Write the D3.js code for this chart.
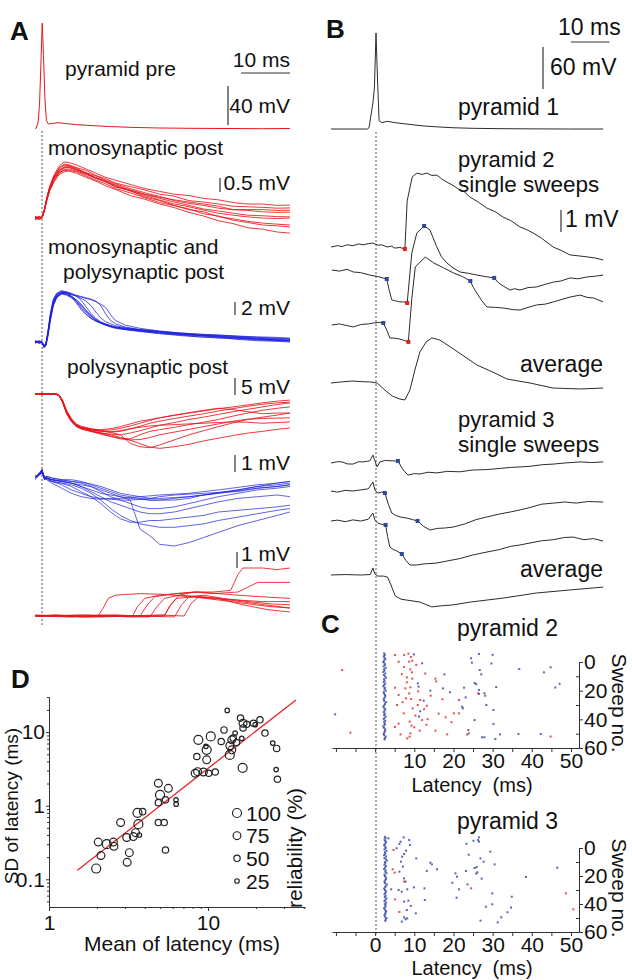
<!DOCTYPE html>
<html>
<head>
<meta charset="utf-8">
<script src="https://cdn.jsdelivr.net/npm/d3@7"></script>
<style>
  body { margin: 0; background: #fff; }
  svg text { font-family: "Liberation Sans", Arial, sans-serif; fill: #111; }
</style>
</head>
<body>
<div id="chart"></div>
<script>
// ---------- Panel A : time in ms (0 = presynaptic spike), voltage in mV from baseline ----------
const aPre = [[-1.4,0],[-1.2,0.3],[-0.8,6],[-0.5,25],[-0.2,70],[0.05,108],[0.3,75],[0.6,30],[0.9,8],[1.3,4.6],[2,5],[3.3,6],[5,5],[7,4],[10,3],[14,2],[18,1.2],[24,0.5],[30,0.2],[38,0],[45,-0.2],[50.6,0]];

const aMonoT = [-1.4,-0.5,0,0.5,1,1.6,2.5,3.5,4.5,5.5,7,9,11,13,15,18,21,24,27,30,33,36,39,42,45,48,50.6];
const aMono = [
  [0.05,-0.05,0,0.3,0.75,1.15,1.55,1.85,2.0,1.98,1.9,1.75,1.6,1.45,1.35,1.2,1.05,0.95,0.85,0.8,0.7,0.65,0.55,0.5,0.5,0.45,0.46],
  [0,0.05,0,0.25,0.7,1.1,1.5,1.8,1.92,1.9,1.8,1.7,1.52,1.4,1.25,1.12,1.0,0.85,0.78,0.62,0.57,0.5,0.42,0.4,0.38,0.35,0.36],
  [-0.05,0,0.02,0.3,0.72,1.1,1.45,1.7,1.82,1.85,1.75,1.62,1.5,1.35,1.22,1.05,0.9,0.77,0.62,0.52,0.45,0.35,0.3,0.27,0.22,0.2,0.21],
  [0.05,0,0,0.28,0.68,1.05,1.4,1.65,1.78,1.8,1.72,1.6,1.42,1.32,1.18,1.0,0.84,0.7,0.57,0.45,0.32,0.25,0.17,0.1,0.08,0.05,0.04],
  [0,-0.05,0.02,0.32,0.7,1.08,1.42,1.62,1.72,1.75,1.68,1.55,1.42,1.28,1.12,0.97,0.8,0.64,0.5,0.4,0.28,0.17,0.1,0.04,0,-0.02,0],
  [0.05,0,0,0.3,0.65,1.0,1.35,1.6,1.7,1.7,1.65,1.5,1.35,1.22,1.05,0.9,0.72,0.55,0.44,0.3,0.22,0.05,-0.03,-0.12,-0.18,-0.22,-0.25],
  [0,0.05,0,0.3,0.7,1.1,1.5,1.75,1.88,1.88,1.78,1.6,1.45,1.3,1.15,0.97,0.75,0.62,0.45,0.32,0.15,0.07,-0.08,-0.16,-0.25,-0.28,-0.32],
  [-0.05,0,0,0.25,0.62,0.98,1.3,1.55,1.65,1.68,1.6,1.45,1.32,1.15,1.02,0.8,0.67,0.5,0.37,0.2,0.07,-0.1,-0.2,-0.35,-0.4,-0.5,-0.54],
  [0,0,0.02,0.3,0.7,1.05,1.45,1.7,1.8,1.82,1.72,1.58,1.42,1.32,1.1,1.0,0.85,0.74,0.65,0.57,0.5,0.42,0.3,0.3,0.3,0.27,0.28]
];

const aMixT = [-1.4,-0.5,0,0.4,0.8,1.2,1.7,2.3,3,4,5,6,7,8,9,10,11,12,13,14,15,17,20,24,28,32,36,40,44,48,50.6];
const aMix = [
  [0.2,-0.2,0,-0.7,-0.4,1.2,3.8,6.0,7.2,7.7,7.6,7.1,6.2,5.2,4.3,3.7,3.2,2.9,2.6,2.4,2.2,2.0,1.8,1.5,1.2,1.0,0.8,0.6,0.5,0.3,0.2],
  [-0.2,0.1,-0.1,-0.8,-0.2,1.5,4.2,6.4,7.4,7.8,7.5,7.0,6.5,5.8,4.8,4.0,3.4,3.0,2.7,2.5,2.3,2.1,1.9,1.6,1.3,1.1,1.0,0.8,0.6,0.5,0.4],
  [0,0.2,0,-0.6,-0.5,1.0,3.5,5.8,7.0,7.6,7.7,7.5,7.1,6.4,5.4,4.4,3.6,3.1,2.8,2.5,2.3,2.0,1.7,1.4,1.2,1.0,0.8,0.7,0.5,0.4,0.3],
  [0.1,-0.1,0,-0.9,-0.6,0.8,3.2,5.5,6.8,7.4,7.5,7.3,7.2,7.0,6.8,6.6,6.3,5.6,4.3,3.3,2.8,2.3,1.9,1.6,1.3,1.1,0.9,0.7,0.5,0.3,0.2],
  [-0.1,0,0.1,-0.7,-0.3,1.3,3.9,6.1,7.1,7.5,7.3,6.9,6.0,5.0,4.2,3.6,3.2,2.9,2.6,2.3,2.1,1.9,1.6,1.3,1.0,0.8,0.6,0.5,0.3,0.2,0.1],
  [0.2,0,0,-0.5,-0.2,1.6,4.4,6.6,7.5,7.9,7.7,7.4,7.0,6.7,6.3,5.6,4.6,3.7,3.1,2.8,2.5,2.2,1.9,1.6,1.4,1.2,1.1,0.9,0.8,0.7,0.6],
  [0,-0.2,0,-0.8,-0.5,1.1,3.6,5.7,6.9,7.4,7.2,6.8,6.3,5.5,4.6,3.9,3.3,2.9,2.6,2.4,2.2,1.9,1.7,1.3,1.1,0.8,0.7,0.4,0.2,0.1,0],
  [0.1,0.1,-0.1,-0.6,-0.3,1.4,4.0,6.2,7.3,7.7,7.6,7.3,7.1,6.9,6.7,6.5,6.2,5.8,5.3,4.2,3.3,2.6,2.1,1.7,1.4,1.2,1.0,0.9,0.7,0.6,0.5],
  [0,0,0,-0.7,-0.4,1.2,3.7,5.9,7.0,7.5,7.4,7.0,6.5,5.7,4.9,4.1,3.5,3.0,2.7,2.5,2.3,2.1,1.8,1.5,1.2,1.0,0.8,0.6,0.4,0.3,0.2]
];

const aPolyT = [-1.4,0,2,3,3.5,4.2,5,6,7,8,10,12,14,16,18,20,22,24,27,30,33,36,39,42,45,48,50.6];
const aPoly = [
  [0,0.2,0,0,-0.3,-2,-5,-7.5,-9,-9.7,-10.3,-10.5,-10.2,-9.6,-8.8,-8,-7.5,-7,-6.3,-5.6,-5,-4.3,-3.8,-3.2,-2.6,-2.1,-1.8],
  [0.1,0,0,-0.1,-0.5,-2.3,-5.5,-8,-9.4,-10,-10.6,-11,-11.2,-11,-10.3,-9.5,-8.6,-8,-7.2,-6.5,-5.8,-5,-4.3,-3.6,-3,-2.6,-2.4],
  [0,-0.1,0.1,0,-0.4,-2.1,-5.2,-7.8,-9.2,-10,-10.8,-11.5,-11.8,-12,-11.5,-10.8,-10,-9.2,-8.4,-7.5,-6.8,-6,-5.2,-4.5,-3.8,-3.1,-2.6],
  [0,0,0,-0.2,-0.6,-2.5,-5.8,-8.2,-9.6,-10.3,-11,-11.6,-12.4,-13,-13.2,-12,-11,-10.5,-9.8,-9,-8.3,-7.5,-6.5,-5.6,-4.8,-4.2,-3.8],
  [0.1,0.1,0,0,-0.3,-1.8,-4.8,-7.2,-8.8,-9.5,-10.2,-10.8,-11.3,-12,-14.5,-15.5,-15.8,-15,-13.5,-12,-10.8,-9.6,-8.5,-7.5,-6.8,-6.2,-5.6],
  [0,0,-0.1,-0.1,-0.5,-2.2,-5.4,-7.9,-9.3,-10.1,-10.9,-11.4,-12,-12.8,-13.6,-14.6,-15.6,-16,-15.5,-14.8,-13.8,-13,-12.2,-11.5,-11,-10.4,-10],
  [0,0.1,0,0,-0.4,-2.0,-5.1,-7.6,-9.1,-9.9,-10.5,-10.9,-11.1,-10.8,-10.2,-9.8,-9.4,-9.2,-9,-8.8,-8.6,-8.4,-8.2,-8.3,-8.6,-8.4,-8.2],
  [0,0,0.1,0,-0.4,-2.1,-5.3,-7.7,-9.2,-9.8,-10.4,-10.7,-10.6,-10.1,-9.4,-8.6,-7.8,-7,-6.2,-5.5,-4.8,-4.2,-4.6,-5.2,-5.8,-5.6,-5.6],
  [0,0,0,-0.1,-0.5,-2.4,-5.6,-8.1,-9.5,-10.2,-11,-11.8,-12.5,-13.2,-13.5,-13.4,-12.8,-12,-11.2,-10.4,-9.6,-8.8,-8,-7.4,-7.2,-7.1,-7]
];

const aSlowT = [-1.4,-0.5,0,0.5,1,2,4,6,8,10,12,14,16,18,20,22,24,27,30,33,36,40,44,48,50.6];
const aSlow = [
  [0,0.3,0.4,-0.1,0,-0.1,-0.2,-0.3,-0.5,-0.7,-0.9,-1.0,-1.1,-1.2,-1.25,-1.3,-1.3,-1.2,-1.1,-1.0,-0.85,-0.7,-0.5,-0.4,-0.3],
  [0.1,0.2,0.5,0,0.1,0,-0.1,-0.1,-0.2,-0.4,-0.6,-0.8,-1.0,-1.1,-1.2,-1.3,-1.3,-1.3,-1.2,-1.0,-0.9,-0.7,-0.5,-0.3,-0.2],
  [-0.1,0.2,0.3,0,-0.1,-0.2,-0.4,-0.7,-0.9,-1.1,-1.2,-1.25,-1.3,-1.3,-1.25,-1.2,-1.1,-1.0,-0.95,-0.9,-0.85,-0.8,-0.6,-0.5,-0.4],
  [0,0.3,0.4,0.1,0,-0.2,-0.3,-0.5,-0.8,-1.1,-1.5,-2.0,-2.4,-2.6,-2.6,-2.5,-2.5,-2.4,-2.3,-2.2,-2.0,-1.9,-1.8,-1.7,-1.6],
  [0.1,0.2,0.4,0,0,-0.1,-0.2,-0.3,-0.4,-0.5,-0.7,-0.9,-1.1,-1.3,-3.0,-3.4,-3.9,-4.0,-3.8,-3.5,-3.2,-2.8,-2.5,-2.2,-2.0],
  [0,0.3,0.5,-0.1,0,-0.2,-0.3,-0.4,-0.6,-0.9,-1.3,-1.8,-2.2,-2.5,-2.7,-2.8,-2.9,-2.9,-2.8,-2.7,-2.5,-2.3,-2.1,-1.9,-1.8],
  [0,0.2,0.3,0,0.1,0,-0.1,-0.2,-0.3,-0.5,-0.8,-1.1,-1.3,-1.5,-1.7,-1.8,-1.8,-1.7,-1.5,-1.3,-1.1,-0.9,-0.7,-0.6,-0.5],
  [0.1,0.2,0.4,0,0,-0.1,-0.15,-0.2,-0.25,-0.35,-0.5,-0.7,-0.9,-1.0,-1.1,-1.2,-1.2,-1.15,-1.1,-1.0,-0.9,-0.75,-0.6,-0.5,-0.4],
  [0,0.2,0.4,0,-0.1,-0.3,-0.6,-0.9,-1.1,-1.2,-1.25,-1.2,-1.2,-1.15,-1.1,-1.05,-1.0,-0.95,-0.9,-0.8,-0.7,-0.55,-0.4,-0.3,-0.2],
  [0,0.3,0.5,0,0,-0.1,-0.2,-0.3,-0.5,-0.8,-1.1,-1.4,-1.6,-1.8,-2.0,-2.1,-2.1,-2.0,-1.8,-1.6,-1.4,-1.2,-1.1,-1.0,-1.1]
];

const aLate = [
  [[-1.4,0],[3,0.08],[8,-0.06],[11.5,0.02],[12.5,0.5],[13.5,1.1],[15,1.3],[20,1.4],[25,1.35],[30,1.2],[35,1.1],[40,1.0],[45,0.9],[50.6,0.9]],
  [[-1.4,0],[6,-0.06],[12,0.06],[18.5,0],[19.5,0.6],[21,1.1],[24,1.3],[28,1.4],[32,1.5],[36,1.4],[40,1.3],[45,1.2],[50.6,1.1]],
  [[-1.4,0.05],[5,0],[10,-0.06],[15,0.06],[20,0],[21.5,0.7],[23,1.2],[27,1.4],[31,1.5],[35,1.5],[38.5,1.6],[40,2.6],[41,3.0],[45,3.0],[48,2.9],[50.6,3.0]],
  [[-1.4,0],[8,0.06],[14,0],[22,-0.06],[23.5,0.6],[25,1.1],[28,1.3],[33,1.2],[38,1.0],[43,0.8],[48,0.6],[50.6,0.5]],
  [[-1.4,0],[6,0.03],[12,-0.06],[18,0],[25,0.06],[26.5,0.8],[28,1.3],[31,1.5],[35,1.4],[40,1.5],[42,1.8],[44,2.1],[48,2.1],[50.6,2.1]],
  [[-1.4,0.05],[7,0],[14,0.06],[20,0],[27,-0.06],[28.5,0.7],[30,1.2],[33,1.3],[37,1.1],[42,0.9],[47,0.75],[50.6,0.7]],
  [[-1.4,0],[9,-0.06],[17,0],[24,0.06],[29,0],[30.5,0.8],[32,1.2],[36,1.1],[41,0.7],[46,0.4],[50.6,0.25]],
  [[-1.4,0],[10,0.06],[18,-0.06],[25,0],[26,0.6],[27.5,1.1],[31,1.2],[36,1.0],[41,0.8],[46,0.6],[50.6,0.5]]
];

// ---------- Panel B : [ms, mV] ----------
const bPyr1 = [[-11.7,0],[-6,0],[-2.2,0],[-1.8,2],[-1.3,20],[-0.8,37],[-0.4,60],[0,137],[0.4,70],[0.8,12],[1.5,9],[2.9,11],[5,9],[8,7],[12,4.5],[16,3],[20,1.8],[25,1],[32,0.5],[40,0.2],[50,0],[59,0]];

const bP2s1 = [[-11.7,0],[-10,0.06],[-8.8,0.02],[-7.5,0.1],[-6,0.06],[-4.5,0.14],[-3.4,0.1],[-2,0.15],[-0.8,0.18],[0.5,0.08],[1.5,0.1],[2.9,0],[4,0.04],[4.9,-0.05],[6.2,-0.02],[7.5,-0.09],[8.1,2.1],[9.4,3.18],[10.6,3.36],[12,3.3],[13.2,3.36],[14.5,3.25],[15.8,3.27],[17,3.1],[18.4,2.95],[20,2.8],[21.8,2.59],[23,2.5],[24.4,2.27],[26.5,2.05],[28.8,1.77],[31,1.6],[33,1.36],[35,1.2],[37.4,0.91],[39,0.8],[40.8,0.64],[43,0.4],[46,0],[48,-0.15],[50.4,-0.36],[52.5,-0.4],[54.8,-0.45],[57,-0.5],[59,-0.59]];
const bP2s1Marks = [[7.5,'red']];
const bP2s2 = [[-11.5,0],[-9.5,-0.05],[-7.5,0.03],[-5.9,-0.09],[-4,-0.12],[-1.6,-0.23],[0.5,-0.3],[2.8,-0.41],[3.4,-0.9],[4.1,-1.36],[5,-1.4],[6.2,-1.45],[7.2,-1.45],[8.1,-1.5],[9.3,0.77],[10.6,1.68],[12.5,2.0],[14,1.82],[15.8,1.05],[17,0.6],[18.4,0.32],[20,0.1],[21.8,-0.09],[24,-0.15],[26.2,-0.23],[28.5,-0.3],[30.7,-0.36],[31.6,-0.55],[32.6,-0.68],[34.8,-0.91],[36,-0.85],[37.4,-0.91],[39.5,-0.8],[41.7,-0.77],[44,-0.65],[46.1,-0.55],[48,-0.5],[50.4,-0.36],[52.5,-0.4],[54.7,-0.32],[57,-0.28],[59,-0.23]];
const bP2s2Marks = [[2.8,'blue'],[8.1,'red'],[12.5,'blue'],[30.7,'blue']];
const bP2s3 = [[-11.5,0],[-9.5,0.05],[-7.5,-0.03],[-5.9,-0.09],[-4,0.02],[-2,0.05],[-0.7,0.09],[1,0.12],[1.9,0.09],[2.8,-0.23],[3.6,-0.59],[5,-0.6],[6.2,-0.64],[7.3,-0.7],[8.4,-0.77],[9.3,1.2],[10.2,2.64],[12.8,3.09],[15,2.82],[17.5,2.6],[20.2,2.36],[22.5,2.2],[24.5,2.0],[25.3,1.7],[26.2,1.45],[27.5,1.1],[28.8,0.82],[31,0.8],[33.2,0.77],[35.5,0.7],[37.4,0.68],[39.5,0.8],[41.7,0.91],[44,0.95],[46.1,1.05],[48,1.15],[50.4,1.27],[53,1.36],[55,1.25],[56.5,1.23],[59,1.05]];
const bP2s3Marks = [[1.9,'blue'],[8.4,'red'],[24.5,'blue']];
const bP2avg = [[-11.7,0],[-9,0.05],[-6,0.09],[-3.5,0.06],[-1.6,0.05],[0.3,0],[2.3,-0.32],[4.2,-0.59],[6.2,-0.73],[7.5,-0.77],[8.8,-0.32],[10.1,0.59],[11.4,1.41],[13,1.86],[14.5,2.05],[16.6,1.95],[20.5,1.5],[26.2,0.82],[30.9,0.45],[34,0.18],[40,0],[46,-0.23],[53,-0.27],[59,-0.23]];

const bP3s1 = [[-11.7,0],[-10,0.06],[-8.8,0.05],[-7.5,-0.04],[-6,-0.05],[-4.5,0.06],[-3.4,0.05],[-2.2,0.08],[-1.6,0.1],[-0.8,0.36],[-0.3,0.1],[0.3,-0.18],[1,0.05],[2.5,0.12],[3.6,0.1],[5.7,0.09],[7,-0.3],[8.3,-0.55],[10,-0.48],[11.4,-0.5],[13.5,-0.42],[15.8,-0.45],[18.5,-0.38],[21.8,-0.4],[25,-0.32],[28.8,-0.3],[32,-0.25],[35,-0.2],[37.4,-0.18],[40,-0.15],[43,-0.08],[46,-0.05],[49,0],[53,0.05],[56,0.02],[59,0.05]];
const bP3s1Marks = [[5.7,'blue']];
const bP3s2 = [[-11.7,0],[-10,-0.05],[-8,0.03],[-6,0],[-4,0.05],[-2,0.1],[-0.8,0.41],[-0.3,0.05],[0.5,-0.1],[1.5,-0.05],[2.3,-0.09],[3.2,-0.6],[4.1,-1.0],[5,-1.1],[6.2,-1.18],[8,-1.23],[9.5,-1.3],[10.8,-1.36],[12.3,-1.6],[14,-1.77],[16,-1.7],[18,-1.68],[20,-1.64],[23,-1.5],[26,-1.3],[28.8,-1.18],[32,-1.05],[35,-0.95],[37.4,-0.86],[40,-0.75],[43,-0.6],[46.1,-0.55],[49,-0.5],[52,-0.55],[55,-0.48],[59,-0.5]];
const bP3s2Marks = [[2.3,'blue'],[10.8,'blue']];
const bP3s3 = [[-11.7,0],[-10,0.04],[-8,-0.03],[-6,0.05],[-4,0],[-2,0.08],[-0.8,0.36],[-0.3,0.05],[0.5,-0.1],[1.5,-0.15],[2.5,-0.18],[3.0,-0.7],[3.6,-1.18],[4.5,-1.3],[5.4,-1.36],[6.7,-1.5],[7.8,-1.8],[8.8,-2.0],[10.5,-2.0],[12.5,-1.95],[15.8,-1.91],[19,-1.8],[22,-1.7],[25,-1.55],[28.8,-1.41],[32,-1.3],[35,-1.15],[37.4,-1.09],[40,-1.0],[43,-0.9],[46,-0.85],[49,-0.75],[51.2,-0.73],[54,-0.85],[56.5,-0.8],[59,-0.91]];
const bP3s3Marks = [[2.5,'blue'],[6.7,'blue']];
const bP3avg = [[-11.7,0],[-8,0.02],[-4,0],[-1.5,0.02],[-0.8,0.32],[-0.3,0.05],[0.5,-0.05],[2,-0.05],[3,-0.1],[4,-0.5],[5,-0.95],[6.5,-1.1],[8,-1.14],[11.4,-1.23],[14.5,-1.45],[17,-1.4],[20,-1.36],[24.5,-1.23],[33,-1.05],[41.6,-0.82],[50.4,-0.68],[59,-0.55]];

// ---------- Panel C : latency (ms), sweep no. ----------
const c2EarlyFirstSweep = -6;
const c2EarlyT = [2.3,2.5,2.2,2.4,2.6,2.3,2.1,2.4,2.5,2.2,2.7,2.3,2.4,2.1,2.6,2.2,2.5,2.8,2.3,2.4,2.2,2.6,2.3,2.1,2.5,2.4,2.7,2.2,2.3,2.5,2.6,2.4,2.2,2.3,2.8,2.5,2.4,2.1,2.3,2.6,2.4,2.2,2.5,2.3,2.7,2.4,2.2,2.6,2.3,2.5,2.4,2.1,2.3,2.6,2.5,2.4,2.2,2.3,2.7,2.5,2.4];
const c2Blue = [[-10.2,36.5],[9.9,-5.3],[12,0.9],[10.9,14.9],[11.1,17.2],[17.7,8.6],[17.3,18.4],[14.1,20],[19.1,21.1],[22.7,17.9],[23.1,24.7],[22.2,31.2],[22.4,32.4],[26.5,22.3],[25.8,15.4],[23.8,47.5],[23.9,49.8],[24.5,-2.6],[24.7,0.5],[26.5,-5.6],[30,-5],[29.7,1],[26.7,5.6],[27.1,8.6],[36.8,4.9],[43.1,7.2],[44.8,3.7],[25.4,14.7],[30.9,17.5],[47.1,15.2],[46,17.8],[26.5,19.5],[27.9,21.8],[28.1,23.5],[28.4,30],[30.2,33.5],[25.4,40.5],[30.2,43.3],[27.3,52.5],[27.9,52.5],[30.7,53.7],[31.9,50.5],[36.6,50.2],[42.3,50.2],[11.5,34.4],[11.2,38],[12.4,27]];
const c2Red = [[-8.4,5.6],[-6.3,49.3],[5.1,-4.9],[7.4,-4.9],[8.5,-5.8],[9.2,-3.5],[6.0,-0.2],[8.7,-0.2],[9.5,-0.9],[7.4,3.5],[9.0,5.1],[9.4,7.2],[8.1,10.7],[9.5,11.6],[8.1,14.2],[15.4,11.6],[15.6,13.5],[5.1,17.9],[7.7,18.4],[9.0,17.7],[8.7,21.9],[6.0,23],[7.9,25.4],[9.2,25.8],[11.5,26.5],[13.2,30.5],[10.9,30],[9.6,32.4],[5.6,30],[7.3,35.8],[10.3,37.4],[8.8,41.6],[12,40.5],[13.4,39.9],[6,43],[5.1,45.3],[9.3,44.4],[11.4,47.9],[15.4,47.9],[9.0,49.8],[8.8,52.1],[8.2,53.3],[18.4,50.5],[21.4,26.5],[21.4,35.8],[20.1,35.8],[23.5,50.6],[18,38.6],[19.5,42],[13.1,43.8],[26.3,21.8],[44.8,52],[10.5,2],[12.8,8],[6.8,8.5],[11,20.5],[7,28],[12.5,33],[10,45.5],[6.5,50.5],[14.2,23.5],[16.2,36],[17.2,26]];

const c3EarlyFirstSweep = -8;
const c3EarlyT = [2.5,2.7,2.4,2.6,2.8,2.5,2.3,2.6,2.7,2.4,2.9,2.5,2.6,2.3,2.8,2.4,2.7,3.0,2.5,2.6,2.4,2.8,2.5,2.3,2.7,2.6,2.9,2.4,2.5,2.7,2.8,2.6,2.4,2.5,3.0,2.7,2.6,2.3,2.5,2.8,2.6,2.4,2.7,2.5,2.9,2.6,2.4,2.8,2.5,2.7,2.6,2.3,2.5,2.8,2.7,2.6,2.4,2.5,2.9,2.7,2.6];
const c3Blue = [[3.4,-6.9],[6.2,-2.9],[6.5,-4.5],[7.3,-7.6],[8.7,-5.7],[8.9,-2.1],[5.5,0.2],[7.9,1.9],[7.4,4.3],[6.9,6.2],[6.6,9.8],[10.5,7.4],[7.1,13.3],[6.2,16.9],[7.4,21.7],[7.8,24],[6.0,30],[6.8,31.2],[8.2,29.5],[4.1,29.5],[9.9,28.1],[7.4,38.3],[8.5,37.6],[9.1,41.4],[8.1,44.3],[7.4,49.5],[7.8,50.9],[8.2,50.2],[10.4,46.7],[6.8,52.6],[12.6,28.8],[12.7,37.1],[14.1,10.5],[14.5,11.7],[13.2,16.4],[15.8,15.2],[23.3,-3],[23.9,4.8],[20.9,20.5],[20.5,18.1],[23.2,16.4],[25.9,13.6],[26.1,17.4],[19.7,24.8],[21.4,29.5],[23.6,26],[20.8,35.5],[26.3,-5.7],[25.1,-5.2],[26.5,-7.6],[26.5,-4.5],[29.4,2.6],[26.9,7.4],[27.7,9.8],[30.5,11.7],[46.5,14.1],[25.4,14.3],[25.8,18.3],[27.2,21.9],[38.5,20.7],[29.9,32.4],[34.9,34.8],[28.3,41.9],[29.9,40.2],[34.7,42.6],[33.8,45.9],[32.2,49.5],[26.9,51.9],[31.3,53.1]];
const c3Red = [[4.7,1.4],[4.5,15.2],[5,17.6],[7.4,24],[5.1,36.7],[6.2,45.7],[24.5,28.8],[48.7,32.4],[50.6,43.8]];

const cTicks = [-10,-5,0,5,10,15,20,25,30,35,40,45,50];
const c2Labels = [10,20,30,40,50];
const c3Labels = [0,10,20,30,40,50];
const sweepTicks = [0,20,40,60];

// ---------- Panel D ----------
const dMean = [1.98,2.12,2.04,2.31,2.54,2.56,2.82,3.08,3.1,3.2,3.39,3.5,3.65,3.6,3.88,3.7,4.87,4.99,4.87,5.63,5.4,4.87,5.3,5.4,6.29,6.3,8.69,8.5,8.3,8.6,9.35,9.8,9.8,9.7,10.4,10.1,11.1,12.1,12.6,13.2,13.7,13.7,14.1,14.4,14.1,14.8,15.1,16.3,16.0,16.5,16.6,16.6,17.5,19.3,21.2,19.8,22.8,25.5,27.0,26.8,27.3];
const dSD = [0.14,0.21,0.32,0.30,0.32,0.28,0.59,0.37,0.17,0.23,0.38,0.43,0.56,0.80,0.83,0.40,2.02,1.40,1.10,1.72,1.20,0.59,0.59,0.25,1.20,1.05,7.85,4.66,2.76,2.90,2.87,5.74,4.20,6.40,8.73,2.76,2.87,7.46,10.7,19.7,4.90,6.52,7.85,8.30,5.74,9.70,7.20,8.20,15.5,3.27,13.2,11.4,12.8,13.2,14.7,12.6,9.70,7.10,6.00,3.10,2.29];
const dRel = [100,75,75,100,75,75,75,75,75,75,75,75,100,100,50,25,75,100,50,75,50,50,50,50,25,25,100,50,75,75,75,100,75,25,100,50,50,50,50,25,100,75,75,50,75,25,50,25,50,100,75,50,50,50,50,25,50,25,50,25,50];
const dFit = [[1.51,0.133],[35.7,27.4]];
const dLegend = [100,75,50,25];
const dMinorX = [2,3,4,5,6,7,8,9,20,30,40];
const dMinorY = [0.05,0.06,0.07,0.08,0.09,0.2,0.3,0.4,0.5,0.6,0.7,0.8,0.9,2,3,4,5,6,7,8,9,20,30];

// ---------------------------------------------------------------------
const RED = '#e8161b', BLUE = '#1d22dc', TRACE = '#2b2b2b';
const MARK = {red: '#e3201c', blue: '#2d4a9a'};
const DOT = {red: '#e2332b', blue: '#3a4ea2'};
const FONT = '"Liberation Sans", Arial, sans-serif';

const svg = d3.select('#chart').append('svg')
  .attr('width', 632).attr('height', 980)
  .style('background', '#fff');

function text(g, x, y, str, size, anchor, weight) {
  return g.append('text').attr('x', x).attr('y', y).text(str)
    .attr('font-size', size).attr('text-anchor', anchor || 'start')
    .attr('font-weight', weight || 'normal');
}
function toPairs(times, sweeps) {
  return sweeps.map(s => s.map((v, i) => [times[i], v]));
}
function valueAt(data, t) {
  const i = d3.bisector(d => d[0]).right(data, t) - 1;
  const a = data[Math.max(0, i)], b = data[Math.min(data.length - 1, i + 1)];
  if (b[0] === a[0]) return a[1];
  return a[1] + (b[1] - a[1]) * (t - a[0]) / (b[0] - a[0]);
}

// ===================== Panel A =====================
const gA = svg.append('g');
const xA = d3.scaleLinear().domain([0, 10]).range([42, 91]);

text(gA, 10, 40, 'A', 26, 'start', 'bold');

gA.append('line').attr('x1', xA(0)).attr('x2', xA(0)).attr('y1', 131).attr('y2', 627)
  .attr('stroke', '#555').attr('stroke-dasharray', '2,2');

const aGroups = [
  {sweeps: [aPre], base: 128.5, k: 0.975, color: RED, op: 1, bar: 40, barX: 228, barBottom: 125, label: '40 mV', ty: 113},
  {sweeps: toPairs(aMonoT, aMono), base: 218, k: 28, color: RED, op: 0.85, bar: 0.5, barX: 220, barBottom: 192, label: '0.5 mV', ty: 190},
  {sweeps: toPairs(aMixT, aMix), base: 342, k: 6.5, color: BLUE, op: 0.75, bar: 2, barX: 235, barBottom: 315, label: '2 mV', ty: 315},
  {sweeps: toPairs(aPolyT, aPoly), base: 394, k: 3.4, color: RED, op: 0.85, bar: 5, barX: 235, barBottom: 395, label: '5 mV', ty: 394},
  {sweeps: toPairs(aSlowT, aSlow), base: 478, k: 17, color: BLUE, op: 0.7, bar: 1, barX: 235, barBottom: 472, label: '1 mV', ty: 470},
  {sweeps: aLate, base: 616, k: 16, color: RED, op: 0.85, bar: 1, barX: 237, barBottom: 568, label: '1 mV', ty: 561}
];

aGroups.forEach(gr => {
  const y = d3.scaleLinear().domain([0, 1]).range([gr.base, gr.base - gr.k]);
  const line = d3.line().x(d => xA(d[0])).y(d => y(d[1]));
  gA.append('g').selectAll('path').data(gr.sweeps).join('path')
    .attr('d', line).attr('fill', 'none')
    .attr('stroke', gr.color).attr('stroke-opacity', gr.op).attr('stroke-width', 1);
  const h = y(0) - y(gr.bar);
  gA.append('line').attr('x1', gr.barX).attr('x2', gr.barX)
    .attr('y1', gr.barBottom).attr('y2', gr.barBottom - h)
    .attr('stroke', '#333').attr('stroke-width', 1.2);
  text(gA, 290, gr.ty, gr.label, 21, 'end');
});

gA.append('line').attr('x1', 290 - (xA(10) - xA(0))).attr('x2', 290).attr('y1', 73).attr('y2', 73)
  .attr('stroke', '#333').attr('stroke-width', 1.2);
text(gA, 290, 67, '10 ms', 21, 'end');

text(gA, 65, 76, 'pyramid pre', 21);
text(gA, 48, 155, 'monosynaptic post', 21);
text(gA, 48, 254, 'monosynaptic and', 21);
text(gA, 63, 279, 'polysynaptic post', 21);
text(gA, 67, 374, 'polysynaptic post', 21);

// ===================== Panel B =====================
const gB = svg.append('g');
const xB = d3.scaleLinear().domain([0, 10]).range([376, 414.5]);

text(gB, 326, 38, 'B', 26, 'start', 'bold');

gB.append('line').attr('x1', xB(0)).attr('x2', xB(0)).attr('y1', 132).attr('y2', 936)
  .attr('stroke', '#555').attr('stroke-dasharray', '2,2');

const bTraces = [
  {data: bPyr1, base: 129, k: 0.7, marks: []},
  {data: bP2s1, base: 247, k: 22, marks: bP2s1Marks},
  {data: bP2s2, base: 270, k: 22, marks: bP2s2Marks},
  {data: bP2s3, base: 325, k: 22, marks: bP2s3Marks},
  {data: bP2avg, base: 383, k: 22, marks: []},
  {data: bP3s1, base: 463, k: 22, marks: bP3s1Marks},
  {data: bP3s2, base: 491, k: 22, marks: bP3s2Marks},
  {data: bP3s3, base: 521, k: 22, marks: bP3s3Marks},
  {data: bP3avg, base: 575, k: 22, marks: []}
];

bTraces.forEach(tr => {
  const y = d3.scaleLinear().domain([0, 1]).range([tr.base, tr.base - tr.k]);
  gB.append('path').datum(tr.data)
    .attr('d', d3.line().x(d => xB(d[0])).y(d => y(d[1])))
    .attr('fill', 'none').attr('stroke', TRACE).attr('stroke-width', 1);
  gB.append('g').selectAll('rect').data(tr.marks).join('rect')
    .attr('x', d => xB(d[0]) - 2).attr('y', d => y(valueAt(tr.data, d[0])) - 2)
    .attr('width', 4).attr('height', 4)
    .attr('fill', d => MARK[d[1]]);
});

// scale bars B
gB.append('line').attr('x1', 609.5 - (xB(10) - xB(0))).attr('x2', 609.5).attr('y1', 42).attr('y2', 42)
  .attr('stroke', '#333').attr('stroke-width', 1.2);
text(gB, 558, 35, '10 ms', 23);
gB.append('line').attr('x1', 543).attr('x2', 543).attr('y1', 89).attr('y2', 89 - 60 * 0.7)
  .attr('stroke', '#333').attr('stroke-width', 1.2);
text(gB, 550, 75, '60 mV', 23);
gB.append('line').attr('x1', 561).attr('x2', 561).attr('y1', 232).attr('y2', 232 - 22)
  .attr('stroke', '#333').attr('stroke-width', 1.2);
text(gB, 565, 227, '1 mV', 23);

text(gB, 458, 115, 'pyramid 1', 23);
text(gB, 458, 167, 'pyramid 2', 22);
text(gB, 458, 192, 'single sweeps', 22.5);
text(gB, 603, 372, 'average', 23, 'end');
text(gB, 458, 427, 'pyramid 3', 22);
text(gB, 458, 452, 'single sweeps', 22.5);
text(gB, 603, 577, 'average', 23, 'end');

// ===================== Panel C =====================
const gC = svg.append('g');
text(gC, 321, 633, 'C', 26, 'start', 'bold');

const xC = d3.scaleLinear().domain([-11, 52.3]).range([332, 580]);

function raster(early, firstSweep, blue, red, top, bottom, labels, opt) {
  const yC = d3.scaleLinear().domain([0, 60]).range([top, bottom]);
  const g = gC.append('g');
  const earlyPts = early.map((t, i) => [t, firstSweep + i]);
  const dots = [
    ...earlyPts.map(d => [d[0], d[1], 'blue']),
    ...blue.map(d => [d[0], d[1], 'blue']),
    ...red.map(d => [d[0], d[1], 'red'])
  ];
  g.selectAll('rect').data(dots).join('rect')
    .attr('x', d => xC(d[0]) - 1).attr('y', d => yC(d[1]) - 1)
    .attr('width', 2).attr('height', 2)
    .attr('fill', d => DOT[d[2]]).attr('fill-opacity', 0.85);

  const xAxis = g.append('g').attr('transform', `translate(0,${bottom})`)
    .call(d3.axisBottom(xC).tickValues(cTicks).tickSize(4).tickSizeOuter(0)
      .tickPadding(opt.pad).tickFormat(d => labels.includes(d) ? d : ''));
  const yAxis = g.append('g').attr('transform', 'translate(579,0)')
    .call(d3.axisRight(yC).tickValues(sweepTicks).tickSize(4).tickSizeOuter(0).tickPadding(1));
  g.append('g').attr('transform', 'translate(579,0)')
    .call(d3.axisLeft(yC).tickValues([10, 30, 50]).tickSize(3).tickSizeOuter(0).tickFormat(''));
  [xAxis, yAxis].forEach(ax => {
    ax.attr('font-size', 21).attr('font-family', FONT);
    ax.selectAll('text').attr('fill', '#111');
  });
  g.selectAll('path.domain, .tick line').attr('stroke', '#333');

  text(g, 472, opt.latY, 'Latency  (ms)', 20, 'middle').style('white-space', 'pre');
  text(g, 0, 0, 'Sweep no.', 21, 'middle')
    .attr('transform', `translate(612,${(top + bottom) / 2 - 2}) rotate(90)`);
  text(g, 457, opt.titleY, opt.title, 23);
}

raster(c2EarlyT, c2EarlyFirstSweep, c2Blue, c2Red, 662, 748, c2Labels,
  {pad: 1, latY: 792, titleY: 636, title: 'pyramid 2'});
raster(c3EarlyT, c3EarlyFirstSweep, c3Blue, c3Red, 848, 932, c3Labels,
  {pad: 1, latY: 975, titleY: 829, title: 'pyramid 3'});

// ===================== Panel D =====================
const gD = svg.append('g');
text(gD, 11, 688, 'D', 26, 'start', 'bold');

const xD = d3.scaleLog().domain([1, 40.7]).range([49, 305]);
const yD = d3.scaleLog().domain([0.042, 30]).range([907, 697]);
const rD = d3.scaleSqrt().domain([0, 100]).range([0, 4.5]);

const dxAxis = gD.append('g').attr('transform', 'translate(0,907)')
  .call(d3.axisBottom(xD).tickValues([1, 10]).tickFormat(d3.format('d')).tickSize(4).tickSizeOuter(0).tickPadding(4));
gD.append('g').attr('transform', 'translate(0,907)')
  .call(d3.axisBottom(xD).tickValues(dMinorX).tickFormat('').tickSize(2).tickSizeOuter(0));
const dyAxis = gD.append('g').attr('transform', 'translate(49,0)')
  .call(d3.axisLeft(yD).tickValues([0.1, 1, 10]).tickFormat(d => d < 1 ? '0.1' : d3.format('d')(d))
    .tickSize(3).tickSizeOuter(0).tickPadding(1));
gD.append('g').attr('transform', 'translate(49,0)')
  .call(d3.axisLeft(yD).tickValues(dMinorY).tickFormat('').tickSize(2).tickSizeOuter(0));
[dxAxis, dyAxis].forEach(ax => {
  ax.attr('font-size', 21).attr('font-family', FONT);
  ax.selectAll('text').attr('fill', '#111');
});
gD.selectAll('path.domain, .tick line').attr('stroke', '#333');

gD.append('path').datum(dFit)
  .attr('d', d3.line().x(d => xD(d[0])).y(d => yD(d[1])))
  .attr('stroke', '#e3262a').attr('stroke-width', 1.3).attr('fill', 'none');

gD.append('g').selectAll('circle').data(dMean.map((m, i) => [m, dSD[i], dRel[i]])).join('circle')
  .attr('cx', d => xD(d[0])).attr('cy', d => yD(d[1])).attr('r', d => rD(d[2]))
  .attr('fill', 'none').attr('stroke', '#222').attr('stroke-width', 1.2);

const legY = d3.scalePoint().domain(dLegend).range([813, 881]);
gD.append('g').selectAll('circle').data(dLegend).join('circle')
  .attr('cx', 237).attr('cy', d => legY(d)).attr('r', d => rD(d))
  .attr('fill', 'none').attr('stroke', '#222').attr('stroke-width', 1.2);
gD.append('g').selectAll('text').data(dLegend).join('text')
  .attr('x', 246).attr('y', d => legY(d)).attr('dy', '0.36em')
  .attr('font-size', 21).text(d => d);

text(gD, 182, 951, 'Mean of latency (ms)', 21, 'middle');
text(gD, 0, 0, 'SD of latency (ms)', 19, 'middle').attr('transform', 'translate(17.5,806) rotate(-90)');
text(gD, 0, 0, 'reliability (%)', 21, 'middle').attr('transform', 'translate(302,848) rotate(-90)');
</script>
</body>
</html>
